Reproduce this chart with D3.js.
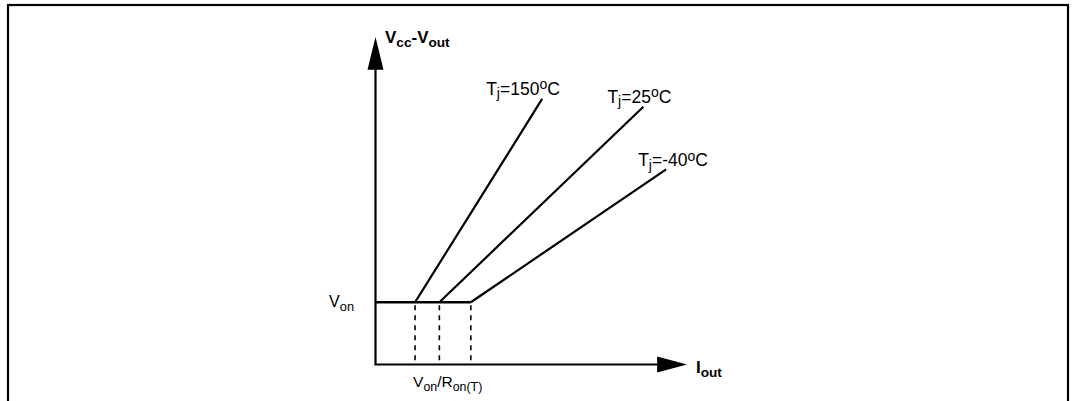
<!DOCTYPE html>
<html>
<head>
<meta charset="utf-8">
<script src="https://cdn.jsdelivr.net/npm/d3@7"></script>
<style>
  body { margin: 0; background: #fff; }
  text { font-family: "Liberation Sans", Arial, sans-serif; fill: #000; }
</style>
</head>
<body>
<div id="chart"></div>
<script>
const width = 1072, height = 401;

// chart values (arbitrary units: x = Iout, y = Vcc-Vout)
const temps = ["150", "25", "-40"];
const vOn = 19;
const kneeX = [12.7, 20.5, 30.6];   // Von/Ron(T) for each temperature
const endX = [53.5, 86.0, 93.3];
const endY = [81.1, 78.7, 59.6];
const axisMax = 100;

// label layout (px offsets from the line end)
const labelDx = [-56, -36, -28];
const labelDy = [-4, -4, -3];

const svg = d3.select("#chart").append("svg")
    .attr("width", width)
    .attr("height", height);

// frame (bottom edge runs off the picture)
svg.append("rect")
    .attr("x", 8).attr("y", 5)
    .attr("width", 1060).attr("height", 420)
    .attr("fill", "none")
    .attr("stroke", "#000")
    .attr("stroke-width", 2.2);

const x = d3.scaleLinear().domain([0, axisMax]).range([375.5, 687]);
const y = d3.scaleLinear().domain([0, axisMax]).range([364.5, 37]);

const line = d3.line().x(d => x(d[0])).y(d => y(d[1]));

// axes
svg.append("path")
    .attr("d", line([[0, axisMax - 9], [0, 0], [axisMax - 9.5, 0]]))
    .attr("fill", "none").attr("stroke", "#000").attr("stroke-width", 2.2);

// arrow heads
svg.append("path")
    .attr("d", `M${x(0)},${y(axisMax)} L${x(0) - 8},${y(axisMax - 10)} L${x(0) + 8},${y(axisMax - 10)} Z`)
    .attr("fill", "#000");
svg.append("path")
    .attr("d", `M${x(axisMax)},${y(0)} L${x(axisMax - 9.6)},${y(0) - 8} L${x(axisMax - 9.6)},${y(0) + 8} Z`)
    .attr("fill", "#000");

// Von flat level
svg.append("path")
    .attr("d", line([[0, vOn], [d3.max(kneeX), vOn]]))
    .attr("fill", "none").attr("stroke", "#000").attr("stroke-width", 2.4);

// dashed drops to x axis
svg.selectAll(".drop")
    .data(kneeX)
    .enter().append("path")
    .attr("class", "drop")
    .attr("d", d => line([[d, vOn], [d, 0]]))
    .attr("stroke", "#000")
    .attr("stroke-width", 1.6)
    .attr("stroke-dasharray", "5,5")
    .attr("stroke-dashoffset", -3);

// temperature lines
svg.selectAll(".tline")
    .data(temps)
    .enter().append("path")
    .attr("class", "tline")
    .attr("d", (d, i) => line([[kneeX[i], vOn], [endX[i], endY[i]]]))
    .attr("fill", "none")
    .attr("stroke", "#000")
    .attr("stroke-width", 2.2);

// rich text helper: parts are [text, "sub"|"sup"|null]
function richText(px, py, parts, opts) {
    const o = Object.assign({ size: 16, ratio: 0.72, bold: false, anchor: "start" }, opts);
    const t = svg.append("text")
        .attr("x", px).attr("y", py)
        .attr("font-size", o.size)
        .attr("font-weight", o.bold ? "bold" : "normal")
        .attr("text-anchor", o.anchor);
    let shift = 0;
    parts.forEach(([s, kind]) => {
        const want = kind === "sub" ? 3.5 : kind === "sup" ? -5.5 : 0;
        t.append("tspan")
            .attr("dy", want - shift)
            .attr("font-size", kind ? o.size * o.ratio : o.size)
            .text(s);
        shift = want;
    });
    return t;
}

temps.forEach((d, i) => {
    richText(x(endX[i]) + labelDx[i], y(endY[i]) + labelDy[i],
        [["T", null], ["j", "sub"], ["=" + d, null], ["o", "sup"], ["C", null]],
        { size: 17.5, ratio: 0.8 });
});

richText(385, 43, [["V", null], ["cc", "sub"], ["-V", null], ["out", "sub"]],
    { bold: true, size: 17, ratio: 0.8 });
richText(696, 373, [["I", null], ["out", "sub"]], { bold: true, size: 17, ratio: 0.8 });
richText(354, y(vOn) + 5, [["V", null], ["on", "sub"]], { anchor: "end", ratio: 0.8 });
richText(x(kneeX[0]) - 2, 387, [["V", null], ["on", "sub"], ["/R", null], ["on(T)", "sub"]],
    { size: 15.5, ratio: 0.8 });
</script>
</body>
</html>
